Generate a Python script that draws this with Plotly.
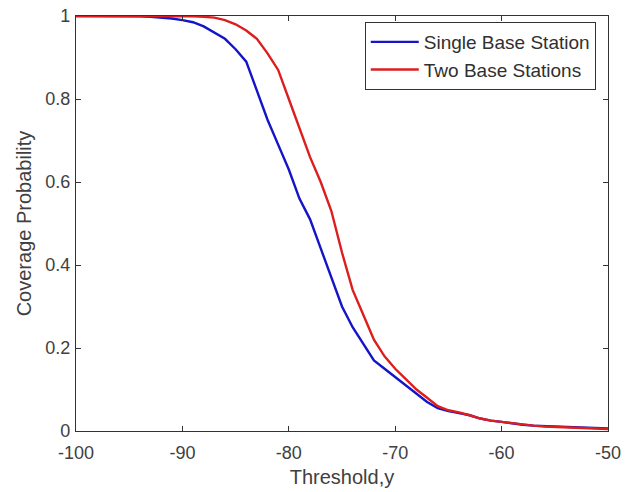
import plotly.graph_objects as go

threshold = list(range(-100, -49))
single_bs = [1, 1, 1, 1, 1, 1, 0.999, 0.998, 0.996, 0.994,
             0.99, 0.985, 0.975, 0.96, 0.945, 0.92, 0.89, 0.82, 0.75, 0.69,
             0.63, 0.56, 0.51, 0.44, 0.37, 0.30, 0.25, 0.21, 0.17, 0.15,
             0.13, 0.11, 0.09, 0.07, 0.055, 0.048, 0.043, 0.038, 0.03, 0.025,
             0.022, 0.018, 0.015, 0.013, 0.012, 0.011, 0.01, 0.009, 0.008, 0.007,
             0.006]
two_bs = [1, 1, 1, 1, 1, 1, 1, 1, 1, 1,
          1, 0.999, 0.998, 0.996, 0.99, 0.98, 0.965, 0.945, 0.91, 0.87,
          0.80, 0.73, 0.66, 0.60, 0.53, 0.43, 0.34, 0.28, 0.22, 0.18,
          0.15, 0.125, 0.10, 0.08, 0.06, 0.05, 0.045, 0.038, 0.03, 0.025,
          0.022, 0.018, 0.015, 0.013, 0.011, 0.01, 0.009, 0.008, 0.007, 0.006,
          0.005]
x_ticks = [-100, -90, -80, -70, -60, -50]
x_tick_labels = ["-100", "-90", "-80", "-70", "-60", "-50"]
y_ticks = [0, 0.2, 0.4, 0.6, 0.8, 1]
y_tick_labels = ["0", "0.2", "0.4", "0.6", "0.8", "1"]

fig = go.Figure()
fig.add_trace(go.Scatter(x=threshold, y=single_bs, mode="lines",
                         name="Single Base Station",
                         line=dict(color="#1414c8", width=2.4)))
fig.add_trace(go.Scatter(x=threshold, y=two_bs, mode="lines",
                         name="Two Base Stations",
                         line=dict(color="#dc1e1e", width=2.4)))

axis_common = dict(showgrid=False, zeroline=False, showline=True, mirror="ticks",
                   linecolor="#333333", linewidth=1.3, ticks="inside", ticklen=5,
                   tickcolor="#333333", automargin=False, ticklabeloverflow="allow",
                   tickfont=dict(size=18, color="#404040"))

fig.update_layout(
    width=635, height=492,
    margin=dict(l=76, r=27, t=16, b=61),
    paper_bgcolor="white", plot_bgcolor="white",
    font=dict(family="Liberation Sans, Arial, sans-serif", color="#404040"),
    xaxis=dict(range=[-100, -50], tickvals=x_ticks, ticktext=x_tick_labels,
               ticklabelstandoff=5,
               title=dict(text="Threshold,y", font=dict(size=20), standoff=8),
               **axis_common),
    yaxis=dict(range=[0, 1], tickvals=y_ticks, ticktext=y_tick_labels,
               ticklabelstandoff=1,
               title=dict(text="Coverage Probability", font=dict(size=20), standoff=8),
               **axis_common),
    legend=dict(x=0.977, y=0.9855, xanchor="right", yanchor="top",
                bgcolor="white", bordercolor="#333333", borderwidth=1,
                font=dict(size=19, color="#303030"), tracegroupgap=0,
                itemwidth=48),
    showlegend=True,
)

fig.write_html("out.html",
               config={"displayModeBar": False},
               post_script="document.body.style.margin='0';"
                           "document.body.style.overflow='hidden';")
